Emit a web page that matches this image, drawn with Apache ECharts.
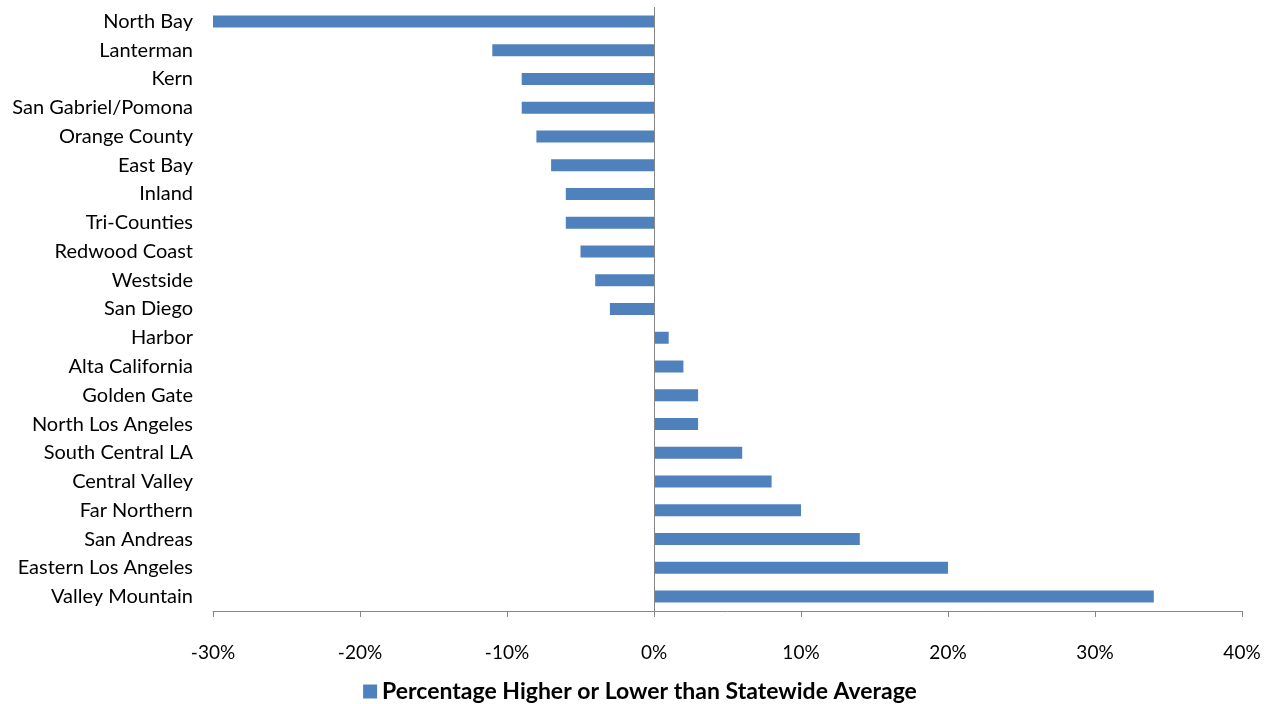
<!DOCTYPE html>
<html><head><meta charset="utf-8">
<script src="https://cdn.jsdelivr.net/npm/echarts@6/dist/echarts.min.js"></script>
<style>html,body{margin:0;padding:0;background:#fff}#c{width:1280px;height:704px}</style>
</head><body><div id="c"></div>
<script>
const categories = ["North Bay","Lanterman","Kern","San Gabriel/Pomona","Orange County","East Bay","Inland","Tri-Counties","Redwood Coast","Westside","San Diego","Harbor","Alta California","Golden Gate","North Los Angeles","South Central LA","Central Valley","Far Northern","San Andreas","Eastern Los Angeles","Valley Mountain"];
const values = [-30,-11,-9,-9,-8,-7,-6,-6,-5,-4,-3,1,2,3,3,6,8,10,14,20,34];
const seriesName = "Percentage Higher or Lower than Statewide Average";
const FONT = "Lato";
const chart = echarts.init(document.getElementById('c'));
chart.setOption({
  animation:false,
  textStyle:{fontFamily:FONT},
  grid:{left:213,right:38,top:7,bottom:93},
  legend:{top:675,left:'center',itemWidth:14,itemHeight:14,itemGap:8,icon:'rect',
    textStyle:{fontFamily:FONT,fontWeight:'bold',fontSize:23,color:'#000'},data:[seriesName]},
  xAxis:{type:'value',min:-30,max:40,interval:10,
    axisLine:{show:true,onZero:false,lineStyle:{color:'#868686',width:1}},
    axisTick:{show:true,length:6,lineStyle:{color:'#868686'}},
    axisLabel:{formatter:v=>v+'%',fontSize:19,color:'#000',margin:32,fontFamily:FONT},
    splitLine:{show:false}},
  yAxis:{type:'category',data:categories,inverse:true,
    axisLine:{show:false},axisTick:{show:false},
    axisLabel:{fontSize:20,color:'#000',margin:20,fontFamily:FONT}},
  series:[{name:seriesName,type:'bar',data:values,barWidth:12,
    itemStyle:{color:'#4F81BD'},
    markLine:{silent:true,symbol:'none',label:{show:false},
      lineStyle:{color:'#868686',width:1,type:'solid'},data:[{xAxis:0}]}}]
});
</script></body></html>
